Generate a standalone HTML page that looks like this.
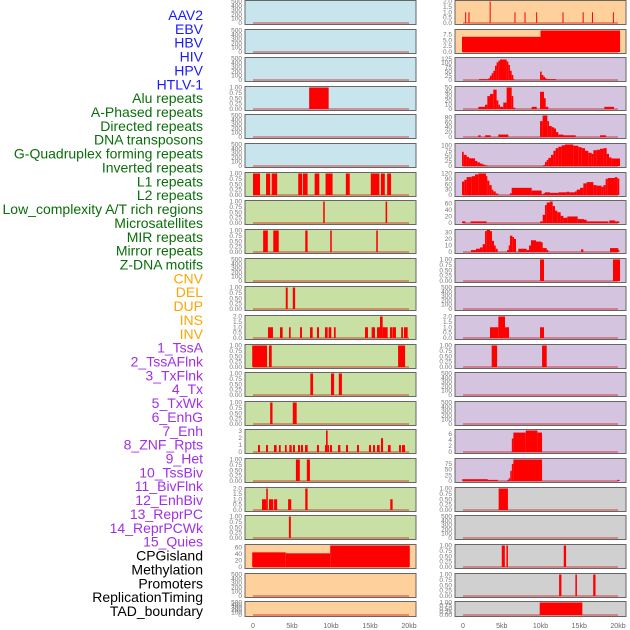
<!DOCTYPE html>
<html><head><meta charset="utf-8"><style>
body{margin:0;background:#fff;width:630px;height:630px;overflow:hidden}
svg{display:block}
</style></head><body>
<svg id="chart" width="630" height="630" xmlns="http://www.w3.org/2000/svg" font-family="Liberation Sans, sans-serif"></svg>
<script>
const trackLabels=["AAV2","EBV","HBV","HIV","HPV","HTLV-1","Alu repeats","A-Phased repeats","Directed repeats","DNA transposons","G-Quadruplex forming repeats","Inverted repeats","L1 repeats","L2 repeats","Low_complexity A/T rich regions","Microsatellites","MIR repeats","Mirror repeats","Z-DNA motifs","CNV","DEL","DUP","INS","INV","1_TssA","2_TssAFlnk","3_TxFlnk","4_Tx","5_TxWk","6_EnhG","7_Enh","8_ZNF_Rpts","9_Het","10_TssBiv","11_BivFlnk","12_EnhBiv","13_ReprPC","14_ReprPCWk","15_Quies","CPGisland","Methylation","Promoters","ReplicationTiming","TAD_boundary"];
const labelGroups=[6,13,5,15,5];
const xTicks=[0,5,10,15,20];
const xTickLabels=["0","5kb","10kb","15kb","20kb"];
const binTicks=[0,0.25,0.5,0.75,1];
const emptyTicks=[0,100,200,300,400,500];
const twoTicks=[0,0.5,1,1.5,2];
// left column data: [startKb,endKb,value]
const L3=[[7.2,9.7,1]];
const L6=[[0,0.9,1],[1.67,2.2,1],[2.4,3.1,1],[5.8,6.3,1],[6.4,7.0,1],[7.9,8.5,1],[9.3,10.2,1],[11.9,12.4,1],[15.1,16.2,1],[16.4,16.9,1],[17.2,17.7,1]];
const L7=[[9.0,9.2,1],[17.0,17.2,1]];
const L8=[[1.3,1.9,1],[2.6,3.3,1],[6.7,7.0,1],[9.9,10.1,1],[15.8,16.0,1]];
const L10=[[4.2,4.45,1],[5.1,5.4,1]];
const L11=[[1.92,2.56,1],[3.46,3.8,1],[4.62,4.83,1],[6.03,6.28,1],[7.31,7.65,1],[8.2,8.46,1],[9.23,9.57,1],[9.7,10.04,1],[10.38,10.6,1],[14.36,14.74,1],[15.21,15.64,1],[15.9,16.28,1],[16.28,16.62,2],[16.62,17.26,1],[17.56,17.86,1],[17.9,18.33,1],[19.0,19.23,1],[19.36,19.83,1]];
const L12=[[-0.1,1.8,1],[2.05,2.4,1],[18.6,19.5,1]];
const L13=[[7.35,7.7,1],[10.0,10.4,1],[11.0,11.4,1]];
const L14=[[2.2,2.5,1],[5.1,5.6,1]];
const L15=[[0.64,0.9,1],[1.67,1.92,1],[2.69,3.03,1],[3.33,3.55,1],[4.1,4.32,1],[4.66,4.96,1],[5.13,5.38,1],[5.77,6.03,1],[6.15,6.41,1],[6.67,7.01,1],[8.2,8.46,1],[9.23,9.36,1],[9.36,9.57,3.1],[9.57,9.74,1],[9.87,10.13,1],[10.9,11.2,1],[11.92,12.18,1],[13.33,13.59,1],[14.87,15.13,1],[15.38,15.64,1],[15.9,16.24,1],[16.41,16.67,2],[17.3,17.65,1],[18.72,18.97,1],[19.1,19.49,1]];
const L16=[[5.5,6.0,1],[6.9,7.3,1]];
const L17=[[1.15,1.7,1],[1.7,1.9,2],[2.05,2.6,1],[2.7,3.1,1],[4.5,4.9,1],[6.7,7.0,2],[17.6,17.9,1]];
const L18=[[4.6,4.85,1]];
const L19=[[-0.1,4.2,45],[4.2,9.9,42],[9.9,20.1,66]];
// right column data
const R0=[[0.28,0.4,1],[0.7,0.84,1],[3.44,3.56,2],[6.64,6.76,1],[7.94,8.06,1],[9.44,9.56,1],[12.84,12.96,1],[15.44,15.56,1],[16.64,16.76,1],[19.34,19.46,1]];
const R1=[[-0.13,10,6.5],[10,20.26,9.2]];
const R2=[[2.06,3.27,5],[3.27,3.48,10],[3.48,3.7,25],[3.7,3.91,40],[3.91,4.13,55],[4.13,4.34,85],[4.34,4.56,105],[4.56,4.77,115],[4.77,5.63,122],[5.63,5.85,110],[5.85,6.06,90],[6.06,6.28,55],[6.28,6.49,30],[6.49,6.58,5],[9.94,10.15,50],[10.15,10.37,30],[10.37,10.58,20],[10.58,10.8,10],[10.8,12.0,5]];
const R3=[[1.98,2.84,5],[2.84,3.14,10],[3.14,3.48,30],[3.48,3.91,35],[3.91,4.34,45],[4.34,4.56,20],[4.56,4.77,10],[4.77,5.2,5],[5.2,5.63,15],[5.63,6.28,50],[6.28,6.49,30],[6.49,6.75,3],[8.86,9.51,5],[9.94,10.45,40],[10.45,10.67,25],[10.67,11.01,5],[18.24,19.48,5]];
const R4=[[1.98,2.28,7],[2.84,3.57,7],[4.56,5.85,10],[9.94,10.28,65],[10.28,10.88,88],[10.88,11.1,65],[11.1,11.44,45],[11.44,11.74,40],[11.74,12.0,35],[12.0,12.3,20],[12.3,12.95,10],[12.95,14.54,7],[17.68,18.45,7]];
const R5=[[-0.13,0.09,70],[0.09,0.47,55],[0.47,0.77,45],[0.77,1.55,38],[1.55,1.85,25],[1.85,2.19,18],[2.19,2.54,12],[2.54,2.84,7],[2.84,3.14,3],[10.37,10.58,5],[10.58,10.8,20],[10.8,11.01,30],[11.01,11.35,40],[11.35,11.66,55],[11.66,11.96,75],[11.96,12.3,88],[12.3,12.73,95],[12.73,13.16,102],[13.16,14.24,106],[14.24,14.88,100],[14.88,15.31,93],[15.31,15.74,88],[15.74,16.17,75],[16.17,16.6,65],[16.6,16.82,60],[16.82,17.25,78],[17.25,17.68,80],[17.68,18.11,85],[18.11,18.54,88],[18.54,18.84,60],[18.84,19.18,42],[19.18,20.26,37]];
const R6=[[-0.13,0.17,75],[0.17,0.47,85],[0.47,1.12,100],[1.12,1.55,105],[1.55,1.98,115],[1.98,2.97,120],[2.97,3.14,105],[3.14,3.4,80],[3.4,3.7,55],[3.7,3.91,30],[3.91,4.22,20],[4.22,4.56,8],[6.06,6.28,10],[6.28,8.86,40],[8.86,10.15,25],[10.15,10.37,5],[10.37,10.58,10],[10.58,11.23,15],[11.23,12.3,12],[12.3,13.38,15],[13.38,13.72,18],[13.72,14.45,15],[14.45,14.67,20],[14.67,15.1,30],[15.1,15.53,40],[15.53,15.96,65],[15.96,16.82,72],[16.82,17.25,55],[17.25,17.89,52],[17.89,18.11,45],[18.11,18.41,55],[18.41,18.67,90],[18.67,19.61,95],[19.61,19.91,100],[19.91,20.17,92]];
const R7=[[-0.13,0.3,5],[0.99,3.05,5],[9.94,10.28,5],[10.28,10.58,25],[10.58,10.8,55],[10.8,11.23,63],[11.23,11.57,66],[11.57,11.87,52],[11.87,12.17,38],[12.17,12.6,33],[12.6,12.95,22],[12.95,13.46,16],[13.46,14.8,20],[14.8,15.61,12],[15.61,15.96,10],[15.96,18.75,5],[18.88,19.61,8],[19.61,20.17,5]];
const R8=[[1.03,1.68,3],[1.68,2.19,5],[2.19,2.54,7],[2.54,2.84,12],[2.84,3.05,32],[3.05,3.48,35],[3.48,3.74,32],[3.74,4.0,17],[4.0,4.22,10],[4.22,4.47,5],[5.68,5.89,3],[5.89,6.06,10],[6.06,6.37,25],[6.37,6.58,23],[6.58,6.84,20],[7.14,8.22,5],[8.22,8.52,3],[8.52,8.77,10],[8.77,9.42,18],[9.42,10.06,16],[10.06,10.28,15],[10.28,10.8,6],[10.8,11.01,3],[15.23,15.53,4],[18.97,20.04,6],[20.04,20.17,3]];
const R9=[[9.94,10.45,1],[19.35,20.26,1]];
const R11=[[3.48,4.56,1],[4.56,5.42,2],[5.42,5.94,1],[9.94,10.45,1]];
const R12=[[3.7,4.4,1],[10.2,10.8,1]];
const R15=[[6.3,6.5,4.5],[6.5,8.1,6.5],[8.1,9.6,7.2],[9.6,10.2,6.5]];
const R16=[[-0.1,3.2,8],[3.2,4.5,5],[5.7,5.9,5],[5.9,6.1,12],[6.1,6.3,45],[6.3,6.5,75],[6.5,10.2,95],[19.9,20.2,5]];
const R17=[[4.6,5.8,1]];
const R19=[[5.0,5.4,1],[5.6,5.8,1],[13.0,13.3,1]];
const R20=[[12.4,12.7,1],[14.5,14.7,1],[16.8,17.1,1]];
const R21=[[9.9,15.4,1]];

const BLUE="#c8e4ec",GREEN="#c8e0a4",ORANGE="#fed09c",PURPLE="#d4c4e0",GRAY="#d0d0d0";
const leftPanels=[
 [null,500,emptyTicks,BLUE],[null,500,emptyTicks,BLUE],[null,500,emptyTicks,BLUE],[L3,1,binTicks,BLUE],[null,500,emptyTicks,BLUE],[null,500,emptyTicks,BLUE],
 [L6,1,binTicks,GREEN],[L7,1,binTicks,GREEN],[L8,1,binTicks,GREEN],[null,500,emptyTicks,GREEN],[L10,1,binTicks,GREEN],[L11,2,twoTicks,GREEN],[L12,1,binTicks,GREEN],[L13,1,binTicks,GREEN],[L14,1,binTicks,GREEN],[L15,3.1,[0,1,2,3],GREEN],[L16,1,binTicks,GREEN],[L17,2,twoTicks,GREEN],[L18,1,binTicks,GREEN],
 [L19,66,[0,20,40,60],ORANGE],[null,500,emptyTicks,ORANGE],[null,500,emptyTicks,ORANGE]];
const rightPanels=[
 [R0,2,twoTicks,ORANGE],[R1,9.2,[0,2.5,5,7.5],ORANGE],
 [R2,128,[0,25,50,75,100,125],PURPLE],[R3,50,[0,10,20,30,40,50],PURPLE],[R4,88,[0,20,40,60,80],PURPLE],[R5,106,[0,25,50,75,100],PURPLE],[R6,120,[0,30,60,90,120],PURPLE],[R7,66,[0,20,40,60],PURPLE],[R8,33,[0,10,20,30],PURPLE],[R9,1,binTicks,PURPLE],[null,500,emptyTicks,PURPLE],[R11,2,twoTicks,PURPLE],[R12,1,binTicks,PURPLE],[null,500,emptyTicks,PURPLE],[null,500,emptyTicks,PURPLE],[R15,7.2,[0,2,4,6],PURPLE],[R16,95,[0,25,50,75],PURPLE],
 [R17,1,binTicks,GRAY],[null,500,emptyTicks,GRAY],[R19,1,binTicks,GRAY],[R20,1,binTicks,GRAY],[R21,1,binTicks,GRAY]];

const NS="http://www.w3.org/2000/svg";
const svg=document.getElementById('chart');
function mk(tag,attrs,parent){const e=document.createElementNS(NS,tag);for(const k in attrs)e.setAttribute(k,attrs[k]);(parent||svg).appendChild(e);return e;}
const rowTops=[0,29,57,86,114,143,172,200,229,258,286,315,344,372,401,429,458,487,515,544,573,601];
function fmt(t,ticks){const mx=ticks[ticks.length-1];if(mx===1)return t.toFixed(2);if(mx===2||mx===7.5)return t.toFixed(1);return String(t);}
function drawColumn(panels,px,pw,x0,kbScale,col){
 const xs=kb=>x0+kb*kbScale;
 panels.forEach((p,i)=>{
  const [data,ymax,ticks,bg]=p;
  const top=rowTops[i],h=(i===21?16:25),bot=top+h;
  const yb=bot-2,yt=top+1.5;
  const ys=v=>yb-(v/ymax)*(yb-yt);
  const g=mk('g',{});
  
  
  const r=mk('rect',{x:px,y:top+0.5,width:pw,height:h-1,fill:bg,stroke:'#666','stroke-width':1},g);
  
  
  const base=mk('line',{x1:xs(0),x2:xs(20),y1:yb,y2:yb,stroke:'rgba(210,0,0,0.35)','stroke-width':2},g);
  
  
  if(data){data.forEach(d=>{
   const x1=Math.max(xs(d[0]),px+1),x2=Math.min(xs(d[1]),px+pw-1);
   const y=Math.max(ys(d[2]),top+1);
   const b=mk('rect',{x:x1,y:y,width:Math.max(x2-x1,1),height:yb-y,fill:'#ff0000'},g);
   
   
  });}
  ticks.forEach(t=>{
   const tt=mk('text',{x:px-3,y:ys(t)+2,'font-size':6.5,fill:'#777','text-anchor':'end'},g);
   tt.textContent=fmt(t,ticks);
   
   
  });
 });
 xTicks.forEach((t,j)=>{
  const tx=mk('text',{x:xs(t),y:628,'font-size':7,fill:'#666','text-anchor':'middle'});
  tx.textContent=xTickLabels[j];
  
  
 });
}
drawColumn(leftPanels,245,171,253,7.8,'left');
drawColumn(rightPanels,455,171,463,7.75,'right');
const groupColors=["#1a1aff","#0a6e0a","#ffa500","#a030e8","#000000"];
let gi=0,cnt=0;
trackLabels.forEach((lab,i)=>{
 if(cnt>=labelGroups[gi]){gi++;cnt=0;}
 cnt++;
 const t=mk('text',{x:203,y:20+i*13.86,'font-size':14,fill:groupColors[gi],'text-anchor':'end'});
 t.textContent=lab;
 
 
});
</script>
</body></html>
